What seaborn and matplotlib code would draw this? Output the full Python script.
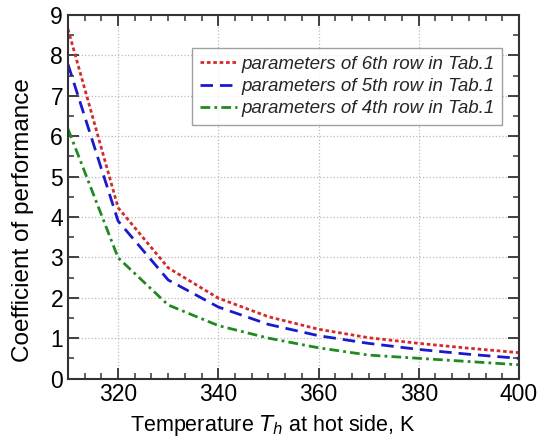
import matplotlib
matplotlib.use("Agg")
import matplotlib.pyplot as plt
from matplotlib.ticker import MultipleLocator, AutoMinorLocator
import seaborn as sns
import pandas as pd

# temperature at hot side, K
temperatura = [310, 320, 330, 340, 350, 360, 370, 380, 390, 400]

# coefficient of performance
cop_row6 = [8.65, 4.23, 2.74, 1.99, 1.53, 1.22, 1.01, 0.87, 0.75, 0.64]
cop_row5 = [7.78, 3.90, 2.44, 1.77, 1.34, 1.06, 0.87, 0.72, 0.60, 0.50]
cop_row4 = [6.18, 2.99, 1.82, 1.31, 1.00, 0.76, 0.58, 0.50, 0.42, 0.34]

rotulos = ["parameters of 6th row in Tab.1",
           "parameters of 5th row in Tab.1",
           "parameters of 4th row in Tab.1"]

sns.set_theme(style="ticks")
plt.rcParams['font.family'] = ['Liberation Sans', 'DejaVu Sans']

fig = plt.figure(figsize=(5.54, 4.45), dpi=100)
ax = fig.add_axes([0.1227, 0.1494, 0.8141, 0.8169])

series = [cop_row6, cop_row5, cop_row4]
cores = ["#d42a2a", "#1a1acc", "#1f8a1f"]
estilos = [(0, (1.3, 1.0)), (0, (4.5, 2.5)), (0, (3.5, 1.5, 1, 1.5))]

for valores, rotulo, cor, estilo in zip(series, rotulos, cores, estilos):
    df = pd.DataFrame({"T": temperatura, "COP": valores})
    sns.lineplot(x="T", y="COP", data=df, ax=ax, color=cor, linewidth=2.0,
                 linestyle=estilo, label=rotulo)

ax.set_xlim(310, 400)
ax.set_ylim(0, 9)
ax.xaxis.set_major_locator(MultipleLocator(20))
ax.xaxis.set_minor_locator(AutoMinorLocator(6))
ax.yaxis.set_major_locator(MultipleLocator(1))
ax.yaxis.set_minor_locator(AutoMinorLocator(2))

ax.grid(True, which="major", linestyle=":", color="#bbbbbb", linewidth=0.9)
ax.tick_params(which="both", direction="in", top=True, right=True,
               colors="#333333", labelcolor="black", labelsize=16.5)
ax.tick_params(which="major", length=8, width=1.3)
ax.tick_params(which="minor", length=4.5, width=1.1)
for s in ax.spines.values():
    s.set_color("#333333")
    s.set_linewidth(1.5)

ax.set_xlabel("Temperature $\\mathit{T_h}$ at hot side, K", fontsize=15.5, color="black")
ax.set_ylabel("Coefficient of performance", fontsize=17.5, color="black")
ax.xaxis.set_label_coords(0.4545, -0.096)
ax.yaxis.set_label_coords(-0.075, 0.436)

leg = ax.legend(loc="upper right", bbox_to_anchor=(0.962, 0.909), frameon=True,
                fancybox=False, edgecolor="#888888", handlelength=2.0,
                handletextpad=0.2, borderpad=0.4, labelspacing=0.28,
                borderaxespad=0.0,
                prop={"style": "italic", "size": 13.5})
leg.get_frame().set_linewidth(1.0)

fig.savefig("out.png", dpi=100)
